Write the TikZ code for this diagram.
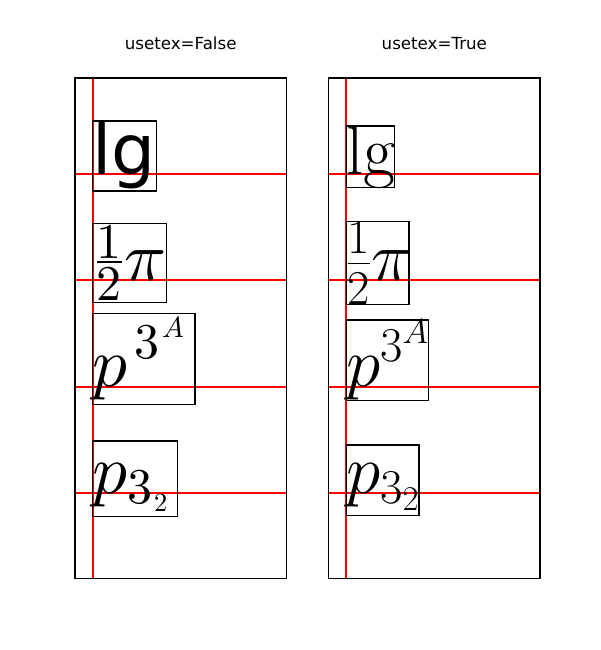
\RequirePackage{fix-cm}
\documentclass[tikz,border=0pt]{standalone}
\usepackage{fontspec}
\newfontfamily\djv{DejaVu Sans}
\newfontfamily\lmm{Latin Modern Math}
\tikzset{
  redline/.style={draw=red, line width=1.5pt},
  spine/.style={draw=black, line width=0.8pt},
  tbox/.style={draw=black, line width=1pt},
  glyph/.style={inner sep=0pt, outer sep=0pt, anchor=base west},
  glyphc/.style={inner sep=0pt, outer sep=0pt, anchor=base},
  ttl/.style={inner sep=0pt, anchor=base, font=\djv\fontsize{12}{14}\selectfont},
}
\newcommand{\fsz}[1]{\fontsize{#1}{#1}\selectfont}
\begin{document}
\begin{tikzpicture}[x=0.72pt,y=-0.72pt]
\useasboundingbox (0,0) rectangle (600,650);
\fill[white] (0,0) rectangle (600,650);
% ---------- left axes: usetex=False ----------
\coordinate (LA1) at (75,78);
\coordinate (LA2) at (286.4,578.5);
\draw[redline] (92.6,78) -- (92.6,578.5);
\foreach \yy in {174,280.4,386.8,493}{\draw[redline] (75,\yy) -- (286.4,\yy);}
\draw[spine] (LA1) rectangle (LA2);
\node[ttl] (titleF) at (180.7,49.5) {usetex=False};
% lg
\draw[tbox] (92.6,121) rectangle (156.7,191);
\node[glyph, font=\djv\fsz{50}] (lgF) at (92.6,174) {lg};
% 1/2 pi
\draw[tbox] (92.6,223.3) rectangle (166.7,302.3);
\node[glyphc, font=\lmm\fsz{36}] (numF) at (109.2,258.3) {1};
\node[glyphc, font=\lmm\fsz{36}] (denF) at (109.2,300) {2};
\fill[black] (96.7,260.6) rectangle (121.7,262.8);
\node[glyph, font=\lmm\fsz{50}] (piF) at (124.5,280.4) {𝜋};
% p^{3^A}
\draw[tbox] (92.6,313.3) rectangle (195,404.3);
\node[glyph, font=\lmm\fsz{50}] (pF1) at (92.6,386.8) {𝑝};
\node[glyph, font=\lmm\fsz{36}] (sup3F) at (134,358) {3};
\node[glyph, font=\lmm\fsz{21}] (supAF) at (162,337.5) {𝐴};
% p_{3_2}
\draw[tbox] (92.6,441) rectangle (177.7,516.7);
\node[glyph, font=\lmm\fsz{50}] (pF2) at (92.6,493) {𝑝};
\node[glyph, font=\lmm\fsz{36}] (sub3F) at (127.5,503.5) {3};
\node[glyph, font=\lmm\fsz{19}] (sub2F) at (154,511.5) {2};
% ---------- right axes: usetex=True ----------
\coordinate (RA1) at (328.6,78);
\coordinate (RA2) at (540,578.5);
\draw[redline] (346.2,78) -- (346.2,578.5);
\foreach \yy in {174,280.4,386.8,493}{\draw[redline] (328.6,\yy) -- (540,\yy);}
\draw[spine] (RA1) rectangle (RA2);
\node[ttl] (titleT) at (434.3,49.5) {usetex=True};
\draw[tbox] (346.2,126) rectangle (394.3,187.3);
\node[glyph, font=\fsz{50}] (lgT) at (346.2,174) {lg};
\draw[tbox] (346.2,221.7) rectangle (409,304.3);
\node[glyph, font=\fsz{50}] (fracT) at (346.2,280.4) {$\frac{1}{2}\pi$};
\draw[tbox] (346.2,320) rectangle (428.7,400.7);
\node[glyph, font=\fsz{50}] (supT) at (346.2,386.8) {$p^{3^A}$};
\draw[tbox] (346.2,445) rectangle (419,515.7);
\node[glyph, font=\fsz{50}] (subT) at (346.2,493) {$p_{3_2}$};
\end{tikzpicture}
\end{document}
